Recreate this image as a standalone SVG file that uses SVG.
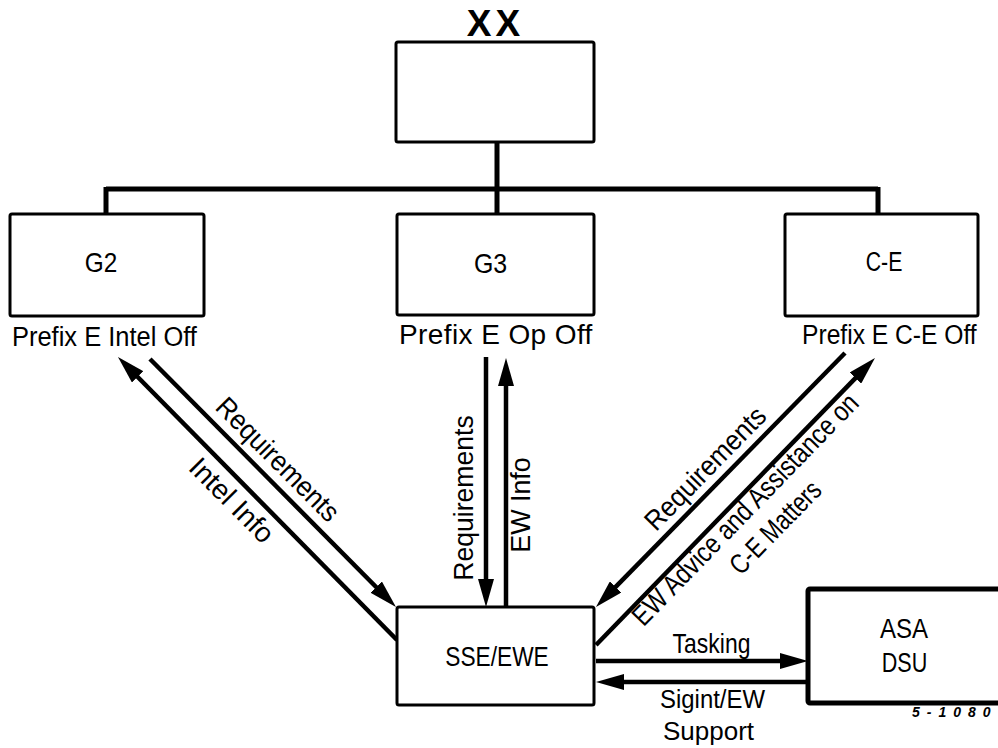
<svg xmlns="http://www.w3.org/2000/svg" width="998" height="748" viewBox="0 0 998 748">
<defs>
<style>
.box{fill:#fff;stroke:#000;stroke-width:3}
.thick{fill:#fff;stroke:#000;stroke-width:5}
.t{font-family:"Liberation Sans",Arial,sans-serif;font-size:28px;fill:#000}
.s{font-size:26px}
.m{text-anchor:middle}
.bus{fill:none;stroke:#000;stroke-width:5}
.arr{fill:none;stroke:#000;stroke-width:4.5;marker-end:url(#ah)}
</style>
<marker id="ah" viewBox="0 0 28 16" refX="16" refY="8" markerWidth="28" markerHeight="16" markerUnits="userSpaceOnUse" orient="auto">
<path d="M0,0 L28,8 L0,16 z" fill="#000"/>
</marker>
</defs>
<rect width="998" height="748" fill="#fff"/>

<g id="connectors">
<path class="bus" d="M497,142 V214 M106,189 H878 M106,187 V214 M878,187 V214"/>
<path class="arr" d="M150,359 L387.5,598.5"/>
<path class="arr" d="M397,640 L126.4,365.5"/>
<path class="arr" d="M486,357 L486,595"/>
<path class="arr" d="M506,607 L506,370"/>
<path class="arr" d="M845,353 L604.4,598.4"/>
<path class="arr" d="M596,645 L866.6,366.6"/>
<path class="arr" d="M596,661 L796,661"/>
<path class="arr" d="M808,682 L608,682"/>
<text class="t m" transform="translate(271,466) rotate(45.2) scale(0.93,1)">Requirements</text>
<text class="t m" transform="translate(225,507) rotate(45.2)">Intel Info</text>
<text class="t m" transform="translate(473,498) rotate(-90) scale(0.95,1)">Requirements</text>
<text class="t m" transform="translate(530,505) rotate(-90) scale(0.96,1)">EW Info</text>
<text class="t m" transform="translate(712,475) rotate(-45.6) scale(0.92,1)">Requirements</text>
<text class="t m" transform="translate(752,516) rotate(-45.8) scale(0.84,1)">EW Advice and Assistance on</text>
<text class="t m" transform="translate(782,534) rotate(-45.8) scale(0.79,1)">C-E Matters</text>
<text class="t m" transform="translate(711.5,653) scale(0.82,1)">Tasking</text>
<text class="t s m" transform="translate(712.5,708) scale(0.92,1)">Sigint/EW</text>
<text class="t s m" transform="translate(708.5,740)">Support</text>
</g>

<g id="node-xx">
<text class="t m" x="495.5" y="36" style="font-size:37px;font-weight:bold" letter-spacing="4">XX</text>
<rect class="box" x="396" y="42" width="198" height="100" rx="2"/>
</g>

<g id="node-g2">
<rect class="box" x="10" y="214" width="194" height="102" rx="2"/>
<text class="t m" transform="translate(101,272) scale(0.87,1)">G2</text>
<text class="t" transform="translate(12,346) scale(0.91,1)">Prefix E Intel Off</text>
</g>

<g id="node-g3">
<rect class="box" x="397" y="214" width="197" height="101" rx="2"/>
<text class="t m" transform="translate(490.5,273) scale(0.89,1)">G3</text>
<text class="t" x="399" y="344" letter-spacing="0.4">Prefix E Op Off</text>
</g>

<g id="node-ce">
<rect class="box" x="785" y="214" width="193" height="102" rx="2"/>
<text class="t m" transform="translate(884,271) scale(0.76,1)">C-E</text>
<text class="t" transform="translate(802,344) scale(0.88,1)">Prefix E C-E Off</text>
</g>

<g id="node-sse">
<rect class="box" x="397" y="607" width="197" height="98" rx="2"/>
<text class="t m" transform="translate(497,666) scale(0.81,1)">SSE/EWE</text>
</g>

<g id="node-asa">
<rect class="thick" x="808" y="589" width="200" height="114" rx="2"/>
<text class="t m" transform="translate(904,638) scale(0.86,1)">ASA</text>
<text class="t m" transform="translate(904.5,672) scale(0.77,1)">DSU</text>
<text x="912" y="717" style="font-family:'Liberation Sans',Arial,sans-serif;font-size:14px;font-style:italic;font-weight:bold;fill:#000" letter-spacing="7">5-1080</text>
</g>
</svg>
